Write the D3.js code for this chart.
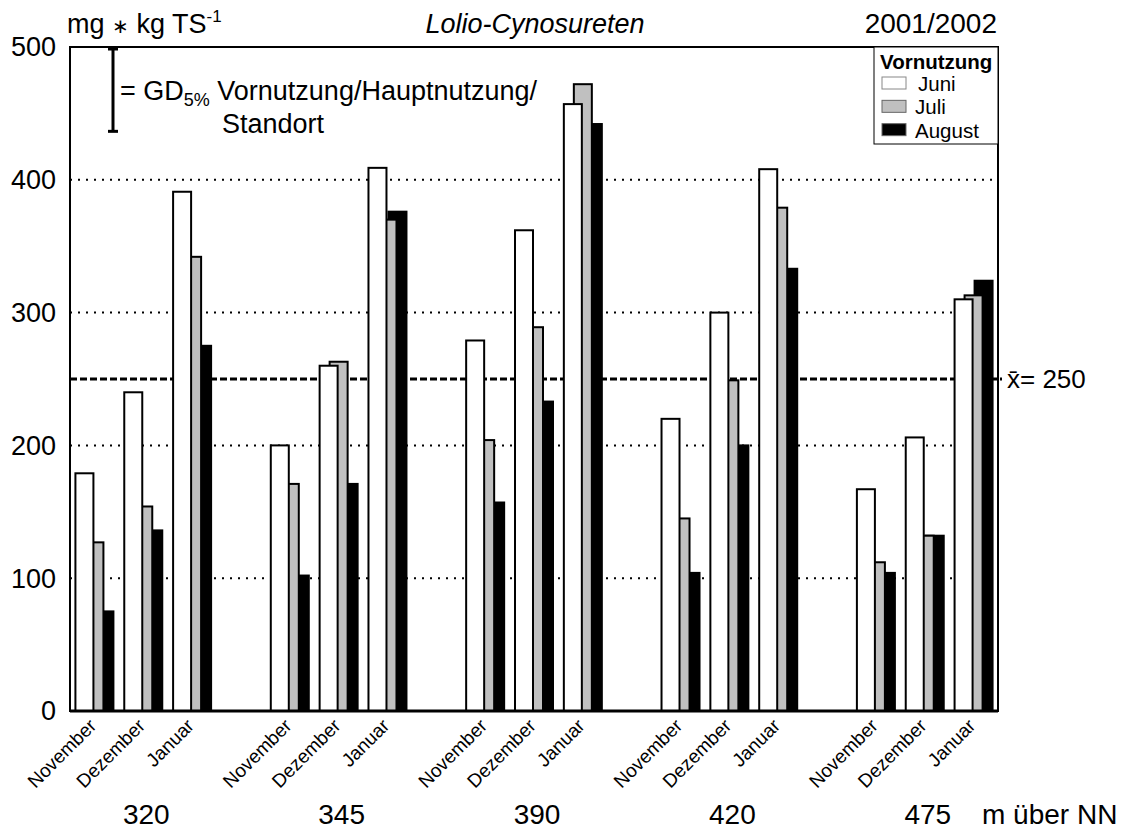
<!DOCTYPE html>
<html>
<head>
<meta charset="utf-8">
<script src="https://cdn.jsdelivr.net/npm/d3@7"></script>
<style>
  html, body { margin: 0; padding: 0; background: #fff; }
  svg { display: block; font-family: "Liberation Sans", Arial, sans-serif; }
</style>
</head>
<body>
<svg id="chart" width="1128" height="830"></svg>
<script>
// ---- data ----
const sites = ["320", "345", "390", "420", "475"];
const months = ["November", "Dezember", "Januar"];
const seriesNames = ["Juni", "Juli", "August"];
const seriesColors = ["#ffffff", "#c0c0c0", "#000000"];
const juni   = [179, 240, 391, 200, 260, 409, 279, 362, 457, 220, 300, 408, 167, 206, 310];
const juli   = [127, 154, 342, 171, 263, 370, 204, 289, 472, 145, 249, 379, 112, 132, 313];
const august = [ 75, 136, 275, 102, 171, 376, 157, 233, 442, 104, 200, 333, 104, 132, 324];
const yTicks = [0, 100, 200, 300, 400, 500];
const meanValue = 250;
const gdValue = 62; // LSD bar length in y units

// ---- layout ----
const L = 70, R = 998, T = 47, B = 711;
const svg = d3.select("#chart");

const slotKeys = [];
sites.forEach((s, si) => {
  months.forEach(m => slotKeys.push(s + "|" + m));
  if (si < sites.length - 1) slotKeys.push("gap" + si);
});
const x = d3.scaleBand().domain(slotKeys).range([L, R]).padding(0);
const y = d3.scaleLinear().domain([0, 500]).range([B, T]);

const rows = [];
sites.forEach((s, si) => months.forEach((m, mi) => {
  const k = si * 3 + mi;
  rows.push({ key: s + "|" + m, site: s, month: m, vals: [juni[k], juli[k], august[k]] });
}));

// gridlines (dotted)
svg.append("g").selectAll("line").data(yTicks.filter(d => d > 0 && d < 500)).join("line")
  .attr("x1", L).attr("x2", R).attr("y1", d => y(d)).attr("y2", d => y(d))
  .attr("stroke", "#000").attr("stroke-width", 2).attr("stroke-dasharray", "2,6");

// mean line
svg.append("line").attr("x1", L).attr("x2", R + 4).attr("y1", y(meanValue)).attr("y2", y(meanValue))
  .attr("stroke", "#000").attr("stroke-width", 3).attr("stroke-dasharray", "7,3");

// bars: August (back), Juli, Juni (front)
const barW = 18, step = 10;
const bw = x.bandwidth();
[2, 1, 0].forEach(si => {
  svg.append("g").selectAll("rect").data(rows).join("rect")
    .attr("x", d => x(d.key) + bw / 2 - (barW + 2 * step) / 2 + si * step)
    .attr("width", barW)
    .attr("y", d => y(d.vals[si]))
    .attr("height", d => y(0) - y(d.vals[si]))
    .attr("fill", seriesColors[si])
    .attr("stroke", "#000").attr("stroke-width", 2);
});

// frame
svg.append("rect").attr("x", L).attr("y", T).attr("width", R - L).attr("height", B - T)
  .attr("fill", "none").attr("stroke", "#000").attr("stroke-width", 2);
svg.append("line").attr("x1", L).attr("x2", R).attr("y1", B).attr("y2", B)
  .attr("stroke", "#000").attr("stroke-width", 3);

// y axis labels
svg.append("g").selectAll("text").data(yTicks).join("text")
  .attr("x", 56).attr("y", d => y(d)).attr("dy", "0.35em")
  .attr("text-anchor", "end").attr("font-size", 27).text(d => d);

// month labels
svg.append("g").selectAll("text").data(rows).join("text")
  .attr("transform", d => `translate(${x(d.key) + bw / 2 + 3},${B + 16}) rotate(-45)`)
  .attr("text-anchor", "end").attr("font-size", 19).text(d => d.month);

// site labels
svg.append("g").selectAll("text").data(sites).join("text")
  .attr("x", s => x(s + "|Dezember") + bw / 2 + 3).attr("y", 824)
  .attr("text-anchor", "middle").attr("font-size", 28).text(s => s);
svg.append("text").attr("x", 982).attr("y", 824).attr("font-size", 28).text("m über NN");

// top texts
const unit = svg.append("text").attr("x", 67).attr("y", 33).attr("font-size", 27);
unit.append("tspan").text("mg ");
unit.append("tspan").attr("font-size", 20).text("∗");
unit.append("tspan").text(" kg TS");
unit.append("tspan").attr("dy", -11).attr("font-size", 17).text("-1");
svg.append("text").attr("x", 535).attr("y", 33).attr("text-anchor", "middle")
  .attr("font-size", 27).attr("font-style", "italic").text("Lolio-Cynosureten");
svg.append("text").attr("x", 997).attr("y", 33).attr("text-anchor", "end")
  .attr("font-size", 28).text("2001/2002");

// GD bar
const gx = 113, gTop = y(500) + 2, gBot = gTop + (y(0) - y(gdValue));
svg.append("line").attr("x1", gx).attr("x2", gx).attr("y1", gTop).attr("y2", gBot)
  .attr("stroke", "#000").attr("stroke-width", 3);
[gTop, gBot].forEach(v => svg.append("line").attr("x1", gx - 5).attr("x2", gx + 5)
  .attr("y1", v).attr("y2", v).attr("stroke", "#000").attr("stroke-width", 3));
const gd = svg.append("text").attr("x", 120).attr("y", 100).attr("font-size", 27);
gd.append("tspan").text("= GD");
gd.append("tspan").attr("dy", 6).attr("font-size", 18).text("5%");
gd.append("tspan").attr("dy", -6).text(" Vornutzung/Hauptnutzung/");
svg.append("text").attr("x", 222).attr("y", 133).attr("font-size", 27).text("Standort");

// mean label
svg.append("text").attr("x", 1007).attr("y", y(meanValue)).attr("dy", "0.36em")
  .attr("font-size", 26).text("x\u0304= 250");

// legend
const lg = svg.append("g");
lg.append("rect").attr("x", 874).attr("y", T).attr("width", R - 874).attr("height", 97)
  .attr("fill", "#fff").attr("stroke", "#000").attr("stroke-width", 1);
lg.append("text").attr("x", 880).attr("y", 69).attr("font-size", 20.5).attr("font-weight", "bold").text("Vornutzung");
const ly = d3.scaleBand().domain(seriesNames).range([77, 147]);
seriesNames.forEach((n, i) => {
  lg.append("rect").attr("x", 882).attr("y", ly(n)).attr("width", 24).attr("height", 12)
    .attr("fill", seriesColors[i]).attr("stroke", i === 0 ? "#888" : "#666").attr("stroke-width", 1);
  lg.append("text").attr("x", i === 0 ? 918 : 915).attr("y", ly(n) + 14).attr("font-size", 20.5).text(n);
});
</script>
</body>
</html>
